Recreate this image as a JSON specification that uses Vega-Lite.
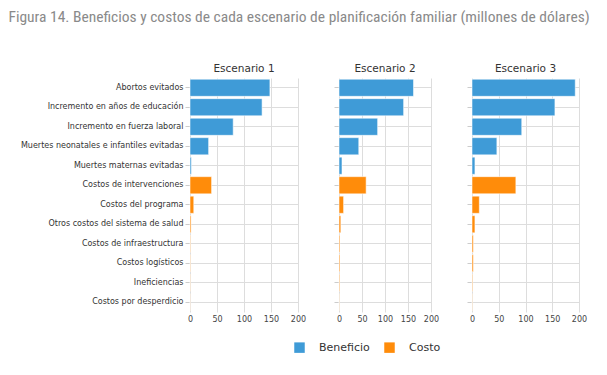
{
  "$schema": "https://vega.github.io/schema/vega-lite/v6.json",
  "padding": {"left": 8, "top": 10, "right": 5, "bottom": 5},
  "background": "white",
  "title": {"text": "Figura 14. Beneficios y costos de cada escenario de planificación familiar (millones de dólares)", "anchor": "start", "font": "Liberation Sans Narrow, Roboto Condensed, Roboto", "fontSize": 15.5, "fontWeight": "normal", "color": "#8a8a8a", "offset": 38, "dx": -12},
  "data": {"values": [
    {"esc": "Escenario 1", "cat": "Abortos evitados", "tipo": "Beneficio", "v": 148},
    {"esc": "Escenario 1", "cat": "Incremento en años de educación", "tipo": "Beneficio", "v": 133.5},
    {"esc": "Escenario 1", "cat": "Incremento en fuerza laboral", "tipo": "Beneficio", "v": 80},
    {"esc": "Escenario 1", "cat": "Muertes neonatales e infantiles evitadas", "tipo": "Beneficio", "v": 34.5},
    {"esc": "Escenario 1", "cat": "Muertes maternas evitadas", "tipo": "Beneficio", "v": 2.5},
    {"esc": "Escenario 1", "cat": "Costos de intervenciones", "tipo": "Costo", "v": 40},
    {"esc": "Escenario 1", "cat": "Costos del programa", "tipo": "Costo", "v": 7},
    {"esc": "Escenario 1", "cat": "Otros costos del sistema de salud", "tipo": "Costo", "v": 2},
    {"esc": "Escenario 1", "cat": "Costos de infraestructura", "tipo": "Costo", "v": 1},
    {"esc": "Escenario 1", "cat": "Costos logísticos", "tipo": "Costo", "v": 0.8},
    {"esc": "Escenario 1", "cat": "Ineficiencias", "tipo": "Costo", "v": 0.5},
    {"esc": "Escenario 1", "cat": "Costos por desperdicio", "tipo": "Costo", "v": 0.3},
    {"esc": "Escenario 2", "cat": "Abortos evitados", "tipo": "Beneficio", "v": 162},
    {"esc": "Escenario 2", "cat": "Incremento en años de educación", "tipo": "Beneficio", "v": 140.5},
    {"esc": "Escenario 2", "cat": "Incremento en fuerza laboral", "tipo": "Beneficio", "v": 84},
    {"esc": "Escenario 2", "cat": "Muertes neonatales e infantiles evitadas", "tipo": "Beneficio", "v": 43},
    {"esc": "Escenario 2", "cat": "Muertes maternas evitadas", "tipo": "Beneficio", "v": 6.5},
    {"esc": "Escenario 2", "cat": "Costos de intervenciones", "tipo": "Costo", "v": 59},
    {"esc": "Escenario 2", "cat": "Costos del programa", "tipo": "Costo", "v": 10},
    {"esc": "Escenario 2", "cat": "Otros costos del sistema de salud", "tipo": "Costo", "v": 4},
    {"esc": "Escenario 2", "cat": "Costos de infraestructura", "tipo": "Costo", "v": 2},
    {"esc": "Escenario 2", "cat": "Costos logísticos", "tipo": "Costo", "v": 2},
    {"esc": "Escenario 2", "cat": "Ineficiencias", "tipo": "Costo", "v": 1.5},
    {"esc": "Escenario 2", "cat": "Costos por desperdicio", "tipo": "Costo", "v": 0.5},
    {"esc": "Escenario 3", "cat": "Abortos evitados", "tipo": "Beneficio", "v": 193},
    {"esc": "Escenario 3", "cat": "Incremento en años de educación", "tipo": "Beneficio", "v": 155},
    {"esc": "Escenario 3", "cat": "Incremento en fuerza laboral", "tipo": "Beneficio", "v": 93},
    {"esc": "Escenario 3", "cat": "Muertes neonatales e infantiles evitadas", "tipo": "Beneficio", "v": 46.5},
    {"esc": "Escenario 3", "cat": "Muertes maternas evitadas", "tipo": "Beneficio", "v": 5.5},
    {"esc": "Escenario 3", "cat": "Costos de intervenciones", "tipo": "Costo", "v": 82},
    {"esc": "Escenario 3", "cat": "Costos del programa", "tipo": "Costo", "v": 13.7},
    {"esc": "Escenario 3", "cat": "Otros costos del sistema de salud", "tipo": "Costo", "v": 5.5},
    {"esc": "Escenario 3", "cat": "Costos de infraestructura", "tipo": "Costo", "v": 2.5},
    {"esc": "Escenario 3", "cat": "Costos logísticos", "tipo": "Costo", "v": 2.5},
    {"esc": "Escenario 3", "cat": "Ineficiencias", "tipo": "Costo", "v": 1.2},
    {"esc": "Escenario 3", "cat": "Costos por desperdicio", "tipo": "Costo", "v": 0.5}
  ]},
  "spacing": 41,
  "bounds": "flush",
  "hconcat": [
    {
      "width": 108, "height": 234,
      "title": {"text": "Escenario 1"},
      "transform": [{"filter": "datum.esc === 'Escenario 1'"}],
      "mark": {"type": "bar", "stroke": "white", "strokeOpacity": 0.55, "strokeWidth": 1},
      "encoding": {
        "y": {"field": "cat", "type": "nominal", "sort": null, "title": null, "scale": {"paddingInner": 0.12, "paddingOuter": 0.06}, "axis": {"labels": true}},
        "x": {"field": "v", "type": "quantitative", "title": null, "scale": {"domain": [0, 200]}},
        "color": {"field": "tipo", "type": "nominal", "scale": {"domain": ["Beneficio", "Costo"], "range": ["#3f9bd7", "#ff8c0a"]}, "legend": {"title": null, "orient": "none", "legendX": 104, "legendY": 264, "direction": "horizontal"}}
      }
    },
    {
      "width": 92, "height": 234,
      "title": {"text": "Escenario 2"},
      "transform": [{"filter": "datum.esc === 'Escenario 2'"}],
      "mark": {"type": "bar", "stroke": "white", "strokeOpacity": 0.55, "strokeWidth": 1},
      "encoding": {
        "y": {"field": "cat", "type": "nominal", "sort": null, "title": null, "scale": {"paddingInner": 0.12, "paddingOuter": 0.06}, "axis": {"labels": false}},
        "x": {"field": "v", "type": "quantitative", "title": null, "scale": {"domain": [0, 200]}},
        "color": {"field": "tipo", "type": "nominal", "scale": {"domain": ["Beneficio", "Costo"], "range": ["#3f9bd7", "#ff8c0a"]}}
      }
    },
    {
      "width": 107, "height": 234,
      "title": {"text": "Escenario 3"},
      "transform": [{"filter": "datum.esc === 'Escenario 3'"}],
      "mark": {"type": "bar", "stroke": "white", "strokeOpacity": 0.55, "strokeWidth": 1},
      "encoding": {
        "y": {"field": "cat", "type": "nominal", "sort": null, "title": null, "scale": {"paddingInner": 0.12, "paddingOuter": 0.06}, "axis": {"labels": false}},
        "x": {"field": "v", "type": "quantitative", "title": null, "scale": {"domain": [0, 200]}},
        "color": {"field": "tipo", "type": "nominal", "scale": {"domain": ["Beneficio", "Costo"], "range": ["#3f9bd7", "#ff8c0a"]}}
      }
    }
  ],
  "config": {
    "view": {"stroke": null},
    "font": "DejaVu Sans",
    "title": {"font": "DejaVu Sans", "fontSize": 10.5, "fontWeight": "normal", "color": "#333", "offset": 4},
    "axisY": {"domain": false, "tickColor": "#ccc", "tickSize": 5, "grid": true, "gridColor": "#ddd", "bandPosition": 0.5, "labelFont": "DejaVu Sans", "labelFontSize": 8, "labelColor": "#333", "labelPadding": 2},
    "axisX": {"domain": false, "ticks": false, "grid": true, "gridColor": "#ddd", "values": [0, 50, 100, 150, 200], "labelFont": "DejaVu Sans", "labelFontSize": 8, "labelColor": "#444", "labelPadding": 3, "labelFlush": false},
    "legend": {"labelFont": "DejaVu Sans", "labelFontSize": 11, "labelColor": "#333", "symbolType": "square", "symbolSize": 110, "symbolStrokeWidth": 0, "columnPadding": 14, "labelOffset": 14}
  }
}
